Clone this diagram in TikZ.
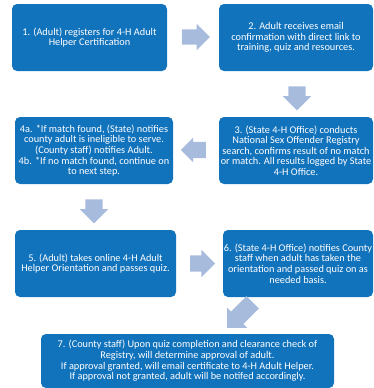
\documentclass[tikz,border=0pt]{standalone}
\usepackage{fontspec}
\setmainfont{Carlito}
\usetikzlibrary{shapes.arrows}

\definecolor{stepblue}{HTML}{1273BD}
\definecolor{arrowblue}{HTML}{A7BCDD}

\begin{document}
\begin{tikzpicture}[x=1pt,y=-1pt,
    stepbox/.style={fill=stepblue, rounded corners=5pt, text=white, align=center,
        font=\fontsize{10.3}{10.6}\selectfont, inner sep=0pt},
    blockarrow/.style={single arrow, fill=arrowblue, inner xsep=0pt,
        single arrow head indent=0pt}]
    \useasboundingbox (0,0) rectangle (373,388);

    \node[stepbox, minimum width=155pt, minimum height=67pt] (b1) at (89.5,37.5)
        {1. (Adult) registers for 4-H Adult\\Helper Certification};
    \node[stepbox, minimum width=154pt, minimum height=67pt] (b2) at (296,37.5)
        {2. Adult receives email\\confirmation with direct link to\\training, quiz and resources.};
    \node[stepbox, minimum width=154pt, minimum height=67pt] (b3) at (296,150.5)
        {3. (State 4-H Office) conducts\\National Sex Offender Registry\\search, confirms result of no match\\or match. All results logged by State\\4-H Office.};
    \node[stepbox, minimum width=158pt, minimum height=67pt] (b4) at (94,150.5)
        {4a. *If match found, (State) notifies\\county adult is ineligible to serve.\\(County staff) notifies Adult.\\4b. *If no match found, continue on\\to next step.};
    \node[stepbox, minimum width=161pt, minimum height=67pt] (b5) at (95.5,263.5)
        {5. (Adult) takes online 4-H Adult\\Helper Orientation and passes quiz.};
    \node[stepbox, minimum width=150pt, minimum height=67pt] (b6) at (298,263.5)
        {6. (State 4-H Office) notifies County\\staff when adult has taken the\\orientation and passed quiz on as\\needed basis.};
    \node[stepbox, minimum width=293pt, minimum height=54pt] (b7) at (187.5,361)
        {7. (County staff) Upon quiz completion and clearance check of\\Registry, will determine approval of adult.\\If approval granted, will email certificate to 4-H Adult Helper.\\If approval not granted, adult will be notifed accordingly.};

    % arrows between the steps
    \node[blockarrow, minimum height=28pt, inner ysep=7.5pt, single arrow head extend=5.5pt] (a12) at (192,37) {};
    \node[blockarrow, minimum height=24pt, inner ysep=8.5pt, single arrow head extend=5.5pt, rotate=-90] (a23) at (297,94) {};
    \node[blockarrow, minimum height=25pt, inner ysep=8pt, single arrow head extend=4pt, rotate=180] (a34) at (197.5,150) {};
    \node[blockarrow, minimum height=24pt, inner ysep=8.5pt, single arrow head extend=5.5pt, rotate=-90] (a45) at (94,207) {};
    \node[blockarrow, minimum height=25pt, inner ysep=8pt, single arrow head extend=5.5pt] (a56) at (198.5,263.5) {};
    \node[blockarrow, minimum height=36pt, inner ysep=8.5pt, single arrow head extend=5.5pt, rotate=-135] (a67) at (243,312) {};
\end{tikzpicture}
\end{document}
